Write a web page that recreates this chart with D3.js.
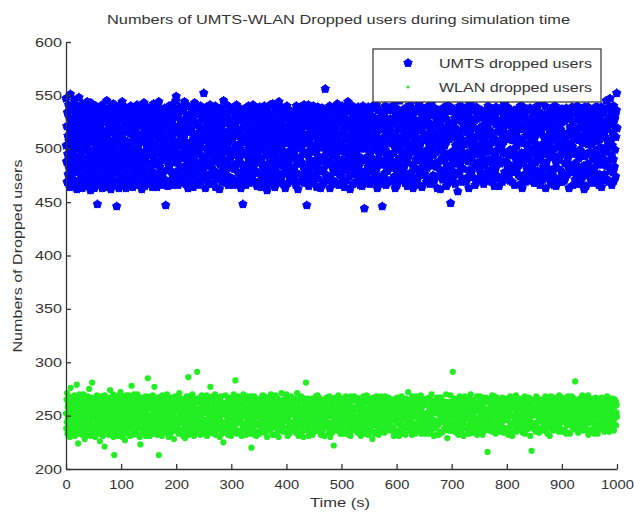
<!DOCTYPE html>
<html>
<head>
<meta charset="utf-8">
<script src="https://cdn.jsdelivr.net/npm/d3@7"></script>
<style>
  body { margin: 0; background: #fff; }
  text { font-family: Arial, "Liberation Sans", sans-serif; fill: #333; }
</style>
</head>
<body>
<div id="chart"></div>
<script>
// UMTS dropped users, sampled every half second from 0 to 1000 s
const umtsDropped = [
547,503,488,521,469,534,495,512,476,541,483,507,529,464,498,517,551,473,536,490,505,468,524,481,539,
497,513,471,528,486,545,502,466,519,493,532,478,509,540,462,500,526,485,515,470,537,492,548,480,511,
523,467,504,535,489,518,474,530,496,463,542,508,482,527,499,470,514,538,487,522,465,506,533,479,501,
516,491,544,472,525,484,510,537,468,499,531,477,520,494,461,543,506,486,528,473,513,539,490,467,521,
482,535,498,463,517,527,475,504,540,488,511,466,532,495,448,522,479,509,536,470,500,524,485,514,538,
469,507,529,492,476,518,541,463,503,486,533,471,510,525,497,464,538,481,515,502,473,529,490,545,468,
512,487,536,474,501,522,465,508,534,479,494,517,539,462,526,483,505,471,531,496,515,477,542,489,520,
503,466,528,491,513,537,478,500,523,446,509,485,532,470,518,495,540,463,507,527,482,514,536,473,498,
530,475,511,489,544,467,502,520,484,535,496,468,524,508,479,539,493,516,463,527,501,486,533,472,517,
490,521,537,465,505,482,529,497,514,471,540,488,506,525,476,499,531,464,518,493,510,538,480,523,469,
508,536,474,495,519,483,527,466,541,501,487,514,532,470,504,522,491,538,468,511,526,478,497,535,484,
462,513,489,530,507,474,524,496,543,480,517,465,509,535,492,471,528,503,487,519,539,476,500,515,467,
526,481,512,534,469,498,521,486,507,539,473,516,494,530,464,505,525,478,542,490,512,468,533,496,519,
473,539,502,485,527,464,513,531,477,496,520,488,544,469,508,524,483,514,536,475,501,518,466,529,492,
515,476,533,498,467,522,505,489,538,471,511,529,447,492,518,535,480,503,524,465,497,531,486,510,540,
484,524,470,512,536,493,479,519,502,466,541,487,508,528,474,514,497,537,469,521,490,506,533,478,545,
549,499,517,473,530,487,521,466,507,534,492,476,515,539,483,503,526,468,511,495,538,479,520,504,472,
536,482,509,527,491,544,470,514,498,523,467,506,532,485,518,475,529,500,463,540,493,516,478,525,488,
505,529,467,494,518,481,537,502,473,515,490,531,464,509,526,476,498,543,483,512,535,471,507,522,496,
470,514,538,487,503,524,466,511,495,532,479,520,506,486,540,469,517,501,528,474,493,534,481,513,527,
552,491,519,477,534,508,463,526,489,515,539,472,500,523,484,511,536,468,504,530,495,476,518,541,486,
511,467,528,499,482,537,516,475,505,522,491,468,533,510,479,525,497,540,464,513,488,529,502,472,519,
488,534,506,473,521,494,530,462,513,485,508,538,477,519,497,526,469,504,535,481,515,490,545,471,500,
526,479,497,531,468,510,487,524,541,475,502,516,489,533,466,507,528,482,514,539,473,498,521,492,536,
495,518,535,484,509,472,527,499,466,520,536,481,512,494,529,470,503,524,486,541,467,515,501,532,478,
517,469,504,528,490,538,476,513,500,527,463,509,486,534,474,519,495,448,511,525,482,537,470,506,523,
480,531,512,466,523,497,485,536,471,507,519,492,540,477,502,530,468,514,488,526,499,473,535,509,484,
534,498,475,515,541,482,503,520,494,529,469,511,526,479,537,488,505,522,465,513,496,532,477,518,490,
501,523,487,539,470,508,531,464,516,491,525,477,504,536,483,515,499,528,471,510,540,485,520,467,529,
473,510,527,494,516,461,535,505,480,521,498,533,467,512,527,489,541,475,502,518,484,530,496,513,469,
542,486,507,522,478,530,495,517,464,538,502,482,519,493,526,472,509,535,487,515,468,523,500,544,476,
508,531,470,503,527,489,514,539,474,499,522,484,510,533,467,518,494,528,478,505,537,463,520,491,512,
485,517,540,479,496,520,468,532,507,488,513,536,473,525,498,481,529,504,470,519,492,534,476,511,527,
524,495,472,511,535,483,518,499,527,466,506,540,489,515,477,531,501,462,523,509,486,538,469,502,516,
492,539,506,470,519,528,487,503,534,476,514,497,525,482,541,468,510,530,495,473,521,505,537,480,447,
513,478,528,497,484,541,465,522,509,490,533,471,518,504,487,536,475,499,526,468,512,529,483,540,497,
470,524,503,535,489,512,530,477,498,519,464,527,508,485,539,472,515,493,532,479,507,521,488,534,463,
529,501,479,517,538,466,505,526,492,513,481,537,469,502,522,490,556,476,511,528,497,470,518,533,485,
496,535,515,472,507,523,488,540,463,499,530,475,516,504,486,527,470,510,536,481,493,524,467,514,539,
518,482,469,528,494,510,536,478,521,503,542,487,498,513,531,466,524,490,506,475,538,499,484,526,505,
477,526,540,489,515,471,502,529,485,518,497,464,533,509,480,522,496,538,470,511,527,483,501,544,488,
537,493,509,474,527,505,462,518,496,535,479,512,526,488,503,540,467,521,498,476,531,507,484,515,529,
490,513,523,497,481,534,517,470,508,528,493,539,474,516,502,485,524,466,512,537,478,500,520,491,533,
465,527,501,540,473,508,525,489,444,514,531,479,500,522,468,536,492,511,477,529,506,483,539,471,517,
521,486,534,467,512,496,479,524,538,471,505,491,517,530,482,499,528,469,513,541,476,503,522,487,510,
499,541,481,515,527,463,506,536,490,519,474,528,495,509,537,467,518,485,530,500,472,523,507,446,534,
510,472,518,503,489,532,521,477,499,540,485,512,466,527,494,515,536,479,505,521,489,538,470,513,495,
536,514,494,528,470,487,539,505,482,516,527,469,509,488,523,496,541,474,502,529,463,515,533,486,506,
480,525,466,511,537,499,473,520,507,531,491,545,476,518,503,484,510,527,471,535,497,522,480,509,526,
506,491,530,483,514,522,468,538,495,475,510,533,487,519,465,529,501,492,537,470,516,504,528,477,541,
528,467,504,539,477,497,524,512,485,531,463,505,521,498,536,473,515,482,509,526,490,535,468,500,519,
471,537,519,494,509,480,542,466,526,502,489,517,534,475,507,497,528,464,520,486,538,511,479,523,493,
514,488,476,526,533,511,490,529,469,508,537,482,499,525,471,513,540,489,504,532,467,519,496,531,484,
532,500,543,468,486,519,507,475,516,494,523,470,511,538,486,502,474,530,497,514,483,527,508,463,536,
487,523,511,503,474,536,481,517,530,462,498,526,479,506,533,491,520,471,538,502,515,476,531,489,509,
503,477,534,517,495,528,465,507,484,521,541,468,514,492,525,480,537,509,473,522,496,449,518,535,472,
520,538,486,479,512,469,523,498,537,475,514,490,529,467,503,519,486,510,534,477,529,493,460,511,528,
476,505,527,491,540,485,511,532,469,500,526,482,517,496,539,472,508,523,481,517,537,470,504,528,490,
538,492,469,535,506,516,496,473,522,488,534,507,463,530,480,511,495,542,476,513,491,525,478,536,501,
493,520,508,473,526,500,538,484,510,527,466,519,497,484,539,469,528,503,487,531,472,513,536,495,519,
512,483,536,502,478,531,471,516,498,536,489,507,529,474,495,522,467,509,520,484,534,499,512,526,477,
470,529,497,519,505,489,522,540,476,513,501,470,526,490,517,536,480,498,528,506,469,537,485,510,531,
529,513,476,490,535,465,509,494,531,481,523,539,485,506,472,527,499,516,474,535,490,521,465,517,503,
486,502,524,538,471,520,487,503,527,469,511,496,533,521,488,507,542,478,513,496,525,471,539,488,514,
522,473,539,483,509,495,530,474,512,537,480,528,470,499,515,484,522,535,494,469,508,530,497,534,480,
499,536,508,466,527,512,478,521,495,489,533,502,517,482,527,493,476,510,538,523,485,509,474,521,540,
467,518,491,530,496,540,463,535,506,475,519,487,534,473,505,530,491,527,469,512,497,536,482,503,525,
537,494,519,477,513,482,526,490,516,538,470,511,496,526,484,520,508,537,471,500,531,477,515,497,468,
480,510,532,505,487,524,468,537,500,521,493,540,479,514,499,528,473,516,492,534,466,519,503,489,530,
516,479,496,528,544,471,504,483,525,498,511,475,532,495,540,486,463,521,509,487,532,502,475,528,511,
506,527,481,513,498,534,517,470,510,492,528,501,467,536,513,476,524,494,539,481,508,524,466,500,535,
473,540,521,488,465,509,491,530,482,516,537,470,518,505,489,531,472,502,523,469,494,518,537,479,514,
525,498,469,537,507,476,528,514,497,470,503,526,486,533,474,511,538,487,514,528,476,505,491,531,483,
495,463,514,497,530,520,485,503,536,478,496,517,539,479,502,525,466,509,495,536,519,485,512,471,538,
534,515,487,475,518,496,540,467,512,529,482,508,491,527,470,499,532,480,521,511,467,530,497,506,473,
478,505,538,519,484,533,462,526,493,539,515,483,528,465,516,495,509,535,475,486,539,504,481,524,517,
521,483,497,531,514,471,507,536,479,504,530,468,511,490,525,532,478,520,493,508,483,514,539,470,498,
490,526,507,473,539,499,520,487,528,466,492,533,476,509,535,485,517,501,539,464,526,491,533,512,486,
512,470,534,497,516,476,523,511,489,537,501,545,484,518,498,527,471,506,487,522,537,469,503,527,539,
547,523,479,508,531,493,466,535,503,515,478,526,490,540,470,512,483,528,499,532,474,511,520,536,552,
519
];

// WLAN dropped users, same sampling
const wlanDropped = [
252,238,265,244,271,233,258,247,262,236,249,268,241,255,230,260,245,276,239,253,264,234,250,267,243,
257,235,248,263,240,254,269,231,246,259,237,266,251,242,279,256,233,261,247,224,265,238,252,244,270,
241,262,255,236,250,267,243,258,232,264,248,239,256,270,245,234,261,251,228,266,240,253,237,259,247,
263,245,232,257,268,242,251,236,260,275,249,238,265,244,254,231,259,246,267,240,281,235,255,262,248,
236,254,266,249,239,261,230,256,245,263,241,252,269,237,248,258,243,266,233,250,264,239,257,226,253,
259,243,251,268,234,247,262,240,255,231,264,250,238,257,246,221,269,242,253,260,236,266,248,244,258,
245,267,238,253,261,232,257,249,266,241,274,236,259,251,243,265,234,255,262,239,247,270,230,256,244,
213,250,263,240,256,247,235,268,244,259,237,252,264,231,249,261,242,257,269,235,254,246,263,272,241,
262,238,255,246,230,266,251,243,260,234,257,268,240,249,227,263,245,254,236,269,248,259,233,251,265,
248,261,244,269,253,239,262,231,256,247,267,241,254,278,237,260,250,232,264,244,258,238,270,246,255,
233,256,267,242,249,263,237,258,245,270,232,251,261,240,266,254,243,259,230,247,223,262,252,238,267,
266,244,252,235,260,255,241,265,234,250,262,246,256,239,268,231,253,264,242,257,236,249,285,243,259,
240,258,263,250,231,246,268,238,257,264,243,235,260,252,247,269,233,255,241,262,250,277,237,264,245,
253,235,247,266,244,257,232,262,249,240,267,254,213,261,243,250,264,236,258,246,268,239,253,231,260,
269,250,239,254,262,236,260,245,268,252,239,258,246,265,234,256,242,270,251,237,263,247,230,257,242,
244,263,256,232,251,267,248,241,259,235,264,250,243,266,257,238,261,228,249,254,240,268,256,245,236,
258,239,266,247,260,241,254,263,233,255,248,271,237,262,245,251,234,259,266,243,257,236,264,250,248,
231,255,243,261,238,264,250,229,257,246,262,240,253,268,235,260,248,255,241,286,252,232,259,246,268,
264,247,259,237,268,253,233,258,242,270,251,236,265,246,257,231,262,250,244,266,239,255,262,235,251,
249,291,236,256,245,239,263,254,236,251,243,267,232,255,261,248,240,258,269,237,252,245,263,233,257,
240,253,268,246,233,261,257,244,265,238,252,269,231,258,245,262,236,255,248,264,234,251,266,241,277,
256,234,250,263,247,255,239,268,251,242,259,233,263,247,237,254,270,243,260,232,257,249,238,265,246,
267,248,241,258,252,237,264,256,230,247,266,240,253,268,244,259,233,251,262,238,256,225,243,260,252,
235,262,255,242,269,244,253,236,261,249,239,257,246,232,265,252,241,258,267,236,248,263,254,245,231,
259,242,264,251,238,266,234,249,257,270,245,261,239,256,250,283,242,236,265,253,247,233,260,251,264,
247,268,236,260,246,255,262,243,235,258,252,267,244,231,261,249,257,240,254,270,242,259,237,266,250,
254,237,252,265,232,249,241,264,253,246,268,234,258,250,263,239,255,246,233,262,252,244,268,220,257,
241,259,247,238,263,256,236,251,268,232,258,244,264,255,241,266,231,260,249,257,235,265,251,242,262,
263,251,233,257,248,262,240,255,244,266,237,252,243,269,258,235,250,262,247,239,256,268,234,255,244,
236,265,258,245,254,230,267,248,261,239,251,263,236,247,259,253,242,264,237,270,249,241,257,264,232,
257,243,250,268,239,261,253,232,256,248,269,240,258,246,233,262,251,255,266,235,244,260,230,253,261,
248,256,239,263,252,244,259,271,237,256,242,264,250,235,265,247,260,238,254,249,263,236,258,245,267,
270,238,264,249,231,257,246,262,250,241,254,233,267,252,244,259,236,268,243,255,239,251,265,238,254,
243,260,252,236,266,254,239,247,263,234,258,249,242,260,271,238,255,245,262,231,257,249,243,266,252,
255,232,246,268,244,250,264,235,258,267,240,253,230,256,248,263,237,251,265,242,259,281,246,236,261,
238,266,257,241,252,262,231,256,246,239,264,251,257,244,234,261,249,266,240,254,232,260,247,264,243,
261,247,235,259,264,240,253,268,243,254,236,262,245,269,250,238,257,242,267,236,252,261,235,256,249,
232,253,262,250,238,257,246,236,261,249,265,241,253,231,260,247,263,252,239,258,244,267,252,240,266,
264,241,249,265,256,234,268,243,252,230,259,236,264,250,243,256,234,261,249,266,238,252,222,265,245,
250,262,238,256,243,267,251,259,236,264,248,255,239,262,269,245,252,237,259,243,265,233,257,250,237,
239,255,266,233,260,248,241,262,254,247,266,233,258,244,261,252,268,240,256,235,250,263,244,260,253,
258,232,251,262,247,238,263,255,231,268,242,250,265,239,253,246,236,264,251,258,241,268,237,255,246,
246,267,243,255,236,265,249,240,259,234,256,262,248,237,266,233,259,245,261,252,231,256,263,242,259,
264,249,237,252,268,243,257,233,262,251,245,240,255,263,236,250,269,243,238,264,253,247,232,266,251,
235,258,260,244,251,262,239,265,249,242,263,235,228,254,267,245,257,260,250,233,256,266,241,253,262,
251,243,268,235,259,247,256,237,265,254,232,258,243,251,264,238,252,268,235,256,244,261,255,237,248,
259,237,252,264,243,255,234,261,247,268,240,253,263,247,236,258,245,265,253,241,267,237,250,259,243,
244,265,240,249,258,236,262,253,238,256,265,246,239,260,252,231,264,248,256,232,259,250,244,266,236,
262,251,234,267,247,259,246,242,258,231,248,266,254,237,263,245,255,240,268,251,238,262,233,247,258,
237,254,263,256,241,248,264,232,253,266,239,257,246,261,244,259,250,272,243,257,247,236,264,252,240,
253,239,260,245,255,232,249,268,243,259,254,236,265,250,238,266,242,255,233,262,249,268,238,257,265,
249,266,247,238,263,257,241,254,262,236,257,249,244,269,255,233,261,247,258,239,265,244,252,236,249,
261,244,252,265,233,246,260,251,237,266,247,262,238,253,242,259,249,233,267,244,255,236,261,250,234,
236,257,270,243,254,264,238,258,246,253,231,260,256,241,264,252,238,256,245,263,232,257,267,243,258,
266,241,256,232,251,244,267,235,262,247,259,245,267,234,249,261,254,244,235,258,251,246,259,238,263,
243,258,238,263,245,270,249,254,240,229,263,251,236,258,245,255,240,263,250,236,259,269,242,254,247,
255,236,262,250,291,253,236,264,257,243,251,235,266,249,240,262,237,252,265,248,256,233,250,261,244,
232,259,246,255,268,238,261,247,253,234,265,256,242,251,260,239,262,245,231,257,246,264,238,268,255,
260,248,253,241,257,262,233,250,266,252,238,259,247,265,233,256,246,261,242,270,250,236,253,243,260,
247,265,240,259,234,249,256,243,262,237,255,243,262,236,254,247,268,232,258,254,239,257,262,248,235,
263,242,256,268,245,261,239,252,235,258,245,267,232,249,264,256,241,255,249,262,236,250,244,267,256,
238,253,264,248,252,216,245,266,249,241,263,251,236,255,247,260,238,264,252,244,258,242,269,235,250,
254,241,250,262,238,256,268,237,262,250,233,258,247,267,241,253,259,245,239,262,249,265,236,257,245,
245,262,235,256,264,243,251,258,244,267,246,239,260,252,234,265,247,256,263,238,253,246,260,251,238,
259,236,266,247,254,232,261,249,256,238,262,255,243,268,257,236,250,264,242,256,231,259,249,243,266,
250,257,243,260,236,263,247,240,269,253,235,258,264,241,250,261,245,253,237,266,248,261,239,255,247,
241,264,252,237,258,249,266,256,234,262,251,245,239,257,246,268,233,259,252,240,262,247,267,237,254,
266,246,259,250,242,267,238,253,247,260,231,264,256,244,261,217,254,243,258,265,239,250,256,263,241,
237,255,243,264,254,235,256,268,240,251,258,244,266,237,257,248,262,234,249,263,253,238,265,251,260,
252,261,248,236,262,257,243,250,265,239,246,262,236,255,243,268,251,257,238,264,245,254,233,260,248,
244,239,263,254,247,265,231,257,253,242,268,248,258,251,237,260,246,263,255,236,267,242,251,239,261,
258,252,237,265,241,250,264,246,238,257,244,256,263,235,253,269,240,249,262,247,236,258,246,265,252,
235,267,254,244,260,237,256,252,263,249,237,260,252,246,264,233,257,244,256,241,262,251,268,234,247,
262,245,259,251,233,255,247,265,241,258,250,268,242,256,239,251,262,237,249,266,253,243,259,282,256,
249,256,242,263,257,246,238,261,252,234,264,254,247,236,258,266,245,253,240,263,248,257,241,250,269,
257,236,267,248,244,262,253,240,266,255,243,238,261,250,243,257,236,265,252,244,269,232,256,246,263,
243,263,251,237,259,250,266,255,235,247,262,251,265,244,256,238,264,249,233,258,254,242,260,267,236,
265,248,239,257,252,233,259,243,262,252,238,256,247,263,250,262,243,255,246,267,237,251,264,244,255,
240,259,262,246,235,264,250,257,244,261,255,242,258,237,268,245,252,261,238,256,263,249,235,258,248,
254,242,250,266,248,256,239,263,250,237,266,252,244,259,236,253,247,265,241,259,250,263,241,253,260,
249
];

const seriesNames = ['UMTS dropped users', 'WLAN dropped users'];
const xTicks = [0, 100, 200, 300, 400, 500, 600, 700, 800, 900, 1000];
const yTicks = [200, 250, 300, 350, 400, 450, 500, 550, 600];

const W = 634, H = 513;
const svg = d3.select('#chart').append('svg').attr('width', W).attr('height', H);

const x = d3.scaleLinear().domain([0, 1000]).range([66, 617]);
const y = d3.scaleLinear().domain([200, 600]).range([469, 42]);

// samples are evenly spread over the 1000 s run
const timeStep = 1000 / (umtsDropped.length - 1);

// blurry "*" marker: small star on top of a round core
const starPath = d3.symbol().type(d3.symbolStar).size(24)() + d3.symbol().type(d3.symbolCircle).size(40)();

// UMTS points
svg.append('g').selectAll('path').data(umtsDropped).join('path')
  .attr('d', starPath)
  .attr('transform', (d, i) => `translate(${x(i * timeStep)},${y(d)})`)
  .attr('fill', '#0000ff')
  .attr('stroke', '#0000ff')
  .attr('stroke-width', 1)
  .attr('stroke-linejoin', 'round');

// WLAN points
svg.append('g').selectAll('circle').data(wlanDropped).join('circle')
  .attr('cx', (d, i) => x(i * timeStep))
  .attr('cy', d => y(d))
  .attr('r', 3.1)
  .attr('fill', '#22ee22');

// axes, ticks pointing inwards
const yAxis = svg.append('g').attr('transform', 'translate(66,0)')
  .call(d3.axisLeft(y).tickValues(yTicks).tickSizeInner(-5).tickSizeOuter(0).tickPadding(4));
const xAxis = svg.append('g').attr('transform', 'translate(0,469)')
  .call(d3.axisBottom(x).tickValues(xTicks).tickFormat(d3.format('d'))
    .tickSizeInner(-5).tickSizeOuter(0).tickPadding(11));

[yAxis, xAxis].forEach(a => {
  a.select('.domain').attr('stroke', '#333').attr('stroke-width', 1.3);
  a.selectAll('.tick line').attr('stroke', '#333').attr('stroke-width', 1.3);
  a.selectAll('.tick text').attr('font-size', 12.5).attr('fill', '#333');
});
yAxis.selectAll('.tick text').attr('textLength', d => String(d).length * 9).attr('lengthAdjust', 'spacingAndGlyphs');
xAxis.selectAll('.tick text').attr('textLength', d => String(d).length * 8.2).attr('lengthAdjust', 'spacingAndGlyphs');

// title and axis labels
svg.append('text').attr('x', 338.5).attr('y', 24).attr('text-anchor', 'middle')
  .attr('font-size', 13).attr('textLength', 463).attr('lengthAdjust', 'spacingAndGlyphs')
  .text('Numbers of UMTS-WLAN Dropped users during simulation time');

svg.append('text').attr('x', 340).attr('y', 507).attr('text-anchor', 'middle')
  .attr('font-size', 13).attr('textLength', 60).attr('lengthAdjust', 'spacingAndGlyphs')
  .text('Time (s)');

svg.append('text').attr('transform', 'translate(22,256) rotate(-90)').attr('text-anchor', 'middle')
  .attr('font-size', 12.5).attr('textLength', 193).attr('lengthAdjust', 'spacingAndGlyphs')
  .text('Numbers of Dropped users');

// legend
const legend = svg.append('g');
legend.append('rect').attr('x', 373).attr('y', 49).attr('width', 228).attr('height', 53)
  .attr('fill', '#fff').attr('stroke', '#333').attr('stroke-width', 1.2);
legend.append('path').attr('d', starPath).attr('transform', 'translate(408,63)')
  .attr('fill', '#0000ff').attr('stroke', '#0000ff').attr('stroke-width', 1);
legend.append('circle').attr('cx', 408).attr('cy', 87).attr('r', 1.5).attr('fill', '#22ee22');
seriesNames.forEach((name, i) => {
  legend.append('text').attr('x', 439).attr('y', 68 + i * 24)
    .attr('font-size', 13).attr('textLength', 153).attr('lengthAdjust', 'spacingAndGlyphs')
    .text(name);
});
</script>
</body>
</html>
